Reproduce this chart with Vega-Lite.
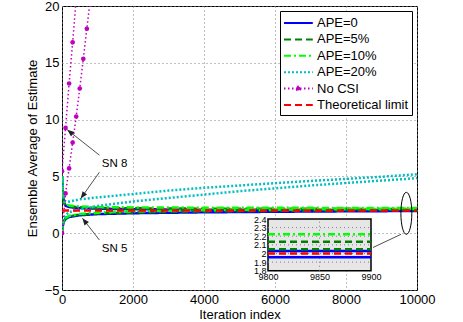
{
  "$schema": "https://vega.github.io/schema/vega-lite/v6.json",
  "width": 355,
  "height": 284,
  "autosize": "none",
  "padding": {"left": 62, "top": 6, "right": 46, "bottom": 32},
  "datasets": {
    "curves": [
      {"s": "APE=0", "n": "8", "x": 0, "y": 5}, {"s": "APE=0", "n": "8", "x": 20, "y": 3.8}, {"s": "APE=0", "n": "8", "x": 50, "y": 2.75}, {"s": "APE=0", "n": "8", "x": 100, "y": 2.42}, {"s": "APE=0", "n": "8", "x": 200, "y": 2.3}, {"s": "APE=0", "n": "8", "x": 500, "y": 2.21}, {"s": "APE=0", "n": "8", "x": 1000, "y": 2.16}, {"s": "APE=0", "n": "8", "x": 2000, "y": 2.11}, {"s": "APE=0", "n": "8", "x": 4000, "y": 2.07}, {"s": "APE=0", "n": "8", "x": 7000, "y": 2.045}, {"s": "APE=0", "n": "8", "x": 10000, "y": 2.03},
      {"s": "APE=0", "n": "5", "x": 0, "y": 0}, {"s": "APE=0", "n": "5", "x": 20, "y": 0.6}, {"s": "APE=0", "n": "5", "x": 50, "y": 1.0}, {"s": "APE=0", "n": "5", "x": 100, "y": 1.25}, {"s": "APE=0", "n": "5", "x": 200, "y": 1.42}, {"s": "APE=0", "n": "5", "x": 500, "y": 1.58}, {"s": "APE=0", "n": "5", "x": 1000, "y": 1.68}, {"s": "APE=0", "n": "5", "x": 2000, "y": 1.76}, {"s": "APE=0", "n": "5", "x": 4000, "y": 1.84}, {"s": "APE=0", "n": "5", "x": 7000, "y": 1.91}, {"s": "APE=0", "n": "5", "x": 10000, "y": 1.956},
      {"s": "APE=5%", "n": "8", "x": 0, "y": 5}, {"s": "APE=5%", "n": "8", "x": 20, "y": 3.85}, {"s": "APE=5%", "n": "8", "x": 50, "y": 2.8}, {"s": "APE=5%", "n": "8", "x": 100, "y": 2.48}, {"s": "APE=5%", "n": "8", "x": 200, "y": 2.37}, {"s": "APE=5%", "n": "8", "x": 500, "y": 2.28}, {"s": "APE=5%", "n": "8", "x": 1000, "y": 2.23}, {"s": "APE=5%", "n": "8", "x": 2000, "y": 2.19}, {"s": "APE=5%", "n": "8", "x": 4000, "y": 2.16}, {"s": "APE=5%", "n": "8", "x": 7000, "y": 2.145}, {"s": "APE=5%", "n": "8", "x": 10000, "y": 2.137},
      {"s": "APE=5%", "n": "5", "x": 0, "y": 0}, {"s": "APE=5%", "n": "5", "x": 20, "y": 0.65}, {"s": "APE=5%", "n": "5", "x": 50, "y": 1.05}, {"s": "APE=5%", "n": "5", "x": 100, "y": 1.3}, {"s": "APE=5%", "n": "5", "x": 200, "y": 1.47}, {"s": "APE=5%", "n": "5", "x": 500, "y": 1.64}, {"s": "APE=5%", "n": "5", "x": 1000, "y": 1.74}, {"s": "APE=5%", "n": "5", "x": 2000, "y": 1.83}, {"s": "APE=5%", "n": "5", "x": 4000, "y": 1.92}, {"s": "APE=5%", "n": "5", "x": 7000, "y": 1.99}, {"s": "APE=5%", "n": "5", "x": 10000, "y": 2.048},
      {"s": "APE=10%", "n": "8", "x": 0, "y": 5}, {"s": "APE=10%", "n": "8", "x": 20, "y": 3.9}, {"s": "APE=10%", "n": "8", "x": 50, "y": 2.85}, {"s": "APE=10%", "n": "8", "x": 100, "y": 2.53}, {"s": "APE=10%", "n": "8", "x": 200, "y": 2.43}, {"s": "APE=10%", "n": "8", "x": 500, "y": 2.35}, {"s": "APE=10%", "n": "8", "x": 1000, "y": 2.3}, {"s": "APE=10%", "n": "8", "x": 2000, "y": 2.27}, {"s": "APE=10%", "n": "8", "x": 4000, "y": 2.245}, {"s": "APE=10%", "n": "8", "x": 7000, "y": 2.23}, {"s": "APE=10%", "n": "8", "x": 10000, "y": 2.222},
      {"s": "APE=10%", "n": "5", "x": 0, "y": 0}, {"s": "APE=10%", "n": "5", "x": 20, "y": 0.7}, {"s": "APE=10%", "n": "5", "x": 50, "y": 1.1}, {"s": "APE=10%", "n": "5", "x": 100, "y": 1.35}, {"s": "APE=10%", "n": "5", "x": 200, "y": 1.52}, {"s": "APE=10%", "n": "5", "x": 500, "y": 1.7}, {"s": "APE=10%", "n": "5", "x": 1000, "y": 1.81}, {"s": "APE=10%", "n": "5", "x": 2000, "y": 1.92}, {"s": "APE=10%", "n": "5", "x": 4000, "y": 2.02}, {"s": "APE=10%", "n": "5", "x": 7000, "y": 2.1}, {"s": "APE=10%", "n": "5", "x": 10000, "y": 2.15},
      {"s": "APE=20%", "n": "8", "x": 0, "y": 5}, {"s": "APE=20%", "n": "8", "x": 30, "y": 3.6}, {"s": "APE=20%", "n": "8", "x": 60, "y": 3.0}, {"s": "APE=20%", "n": "8", "x": 100, "y": 2.8}, {"s": "APE=20%", "n": "8", "x": 200, "y": 2.78}, {"s": "APE=20%", "n": "8", "x": 500, "y": 2.98}, {"s": "APE=20%", "n": "8", "x": 1000, "y": 3.15}, {"s": "APE=20%", "n": "8", "x": 2000, "y": 3.45}, {"s": "APE=20%", "n": "8", "x": 3000, "y": 3.75}, {"s": "APE=20%", "n": "8", "x": 4000, "y": 4.0}, {"s": "APE=20%", "n": "8", "x": 5000, "y": 4.2}, {"s": "APE=20%", "n": "8", "x": 6000, "y": 4.4}, {"s": "APE=20%", "n": "8", "x": 7000, "y": 4.6}, {"s": "APE=20%", "n": "8", "x": 8000, "y": 4.78}, {"s": "APE=20%", "n": "8", "x": 9000, "y": 4.97}, {"s": "APE=20%", "n": "8", "x": 10000, "y": 5.19},
      {"s": "APE=20%", "n": "5", "x": 0, "y": 0}, {"s": "APE=20%", "n": "5", "x": 30, "y": 0.9}, {"s": "APE=20%", "n": "5", "x": 60, "y": 1.35}, {"s": "APE=20%", "n": "5", "x": 100, "y": 1.6}, {"s": "APE=20%", "n": "5", "x": 200, "y": 1.85}, {"s": "APE=20%", "n": "5", "x": 500, "y": 2.1}, {"s": "APE=20%", "n": "5", "x": 1000, "y": 2.4}, {"s": "APE=20%", "n": "5", "x": 2000, "y": 2.8}, {"s": "APE=20%", "n": "5", "x": 3000, "y": 3.1}, {"s": "APE=20%", "n": "5", "x": 4000, "y": 3.4}, {"s": "APE=20%", "n": "5", "x": 5000, "y": 3.7}, {"s": "APE=20%", "n": "5", "x": 6000, "y": 3.95}, {"s": "APE=20%", "n": "5", "x": 7000, "y": 4.2}, {"s": "APE=20%", "n": "5", "x": 8000, "y": 4.42}, {"s": "APE=20%", "n": "5", "x": 9000, "y": 4.63}, {"s": "APE=20%", "n": "5", "x": 10000, "y": 4.85},
      {"s": "No CSI", "n": "8", "x": 0, "y": 5.46}, {"s": "No CSI", "n": "8", "x": 100, "y": 9.27}, {"s": "No CSI", "n": "8", "x": 200, "y": 13.18}, {"s": "No CSI", "n": "8", "x": 300, "y": 16.8}, {"s": "No CSI", "n": "8", "x": 400, "y": 20.6},
      {"s": "No CSI", "n": "5", "x": 0, "y": 0}, {"s": "No CSI", "n": "5", "x": 100, "y": 3.5}, {"s": "No CSI", "n": "5", "x": 200, "y": 5.7}, {"s": "No CSI", "n": "5", "x": 300, "y": 7.98}, {"s": "No CSI", "n": "5", "x": 400, "y": 10.27}, {"s": "No CSI", "n": "5", "x": 500, "y": 12.74}, {"s": "No CSI", "n": "5", "x": 600, "y": 15.35}, {"s": "No CSI", "n": "5", "x": 700, "y": 18.0}, {"s": "No CSI", "n": "5", "x": 800, "y": 20.7},
      {"s": "Theoretical limit", "n": "0", "x": 0, "y": 2}, {"s": "Theoretical limit", "n": "0", "x": 10000, "y": 2}
    ],
    "arrows": [
      {"id": "a1", "x": 150, "y": 9.1, "x2": 1054, "y2": 6.87},
      {"id": "a2", "x": 527, "y": 3.05, "x2": 1054, "y2": 5.37},
      {"id": "a3", "x": 575, "y": 1.32, "x2": 1054, "y2": -0.6},
      {"id": "link", "x": 9549, "y": -0.1, "x2": 8761, "y2": -1.26}
    ],
    "labels": [
      {"label": "SN 8", "x": 1480, "y": 6.05},
      {"label": "SN 5", "x": 1480, "y": -1.4}
    ],
    "ellipse": [{"x": 9700, "y": 1.75}],
    "insetBox": [{"x": 9800, "x2": 9900, "y": 1.8, "y2": 2.4}],
    "insetVGrid": [{"x": 9850, "y": 1.8, "y2": 2.4}],
    "insetHGrid": [{"y": 1.9, "x": 9800, "x2": 9900}, {"y": 2.0, "x": 9800, "x2": 9900}, {"y": 2.1, "x": 9800, "x2": 9900}, {"y": 2.2, "x": 9800, "x2": 9900}, {"y": 2.3, "x": 9800, "x2": 9900}],
    "inset": [
      {"s": "APE=0", "n": "5", "x": 9800, "y": 1.956}, {"s": "APE=0", "n": "5", "x": 9900, "y": 1.956},
      {"s": "APE=0", "n": "8", "x": 9800, "y": 2.029}, {"s": "APE=0", "n": "8", "x": 9900, "y": 2.029},
      {"s": "APE=5%", "n": "5", "x": 9800, "y": 2.048}, {"s": "APE=5%", "n": "5", "x": 9900, "y": 2.048},
      {"s": "APE=5%", "n": "8", "x": 9800, "y": 2.137}, {"s": "APE=5%", "n": "8", "x": 9900, "y": 2.137},
      {"s": "APE=10%", "n": "8", "x": 9800, "y": 2.222}, {"s": "APE=10%", "n": "8", "x": 9900, "y": 2.222},
      {"s": "Theoretical limit", "n": "0", "x": 9800, "y": 2.0}, {"s": "Theoretical limit", "n": "0", "x": 9900, "y": 2.0}
    ]
  },
  "layer": [
    {
      "layer": [
        {
          "data": {"name": "curves"},
          "transform": [{"filter": "datum.s == 'APE=0' || datum.s == 'APE=5%' || datum.s == 'APE=10%'"}],
          "mark": {"type": "line", "strokeWidth": 2.5, "clip": true},
          "encoding": {
            "x": {"field": "x", "type": "quantitative", "title": "Iteration index", "scale": {"domain": [0, 10000], "nice": false},
                  "axis": {"values": [0, 2000, 4000, 6000, 8000, 10000], "format": "d", "labelPadding": 3, "titlePadding": 2, "grid": true}},
            "y": {"field": "y", "type": "quantitative", "title": "Ensemble Average of Estimate", "scale": {"domain": [-5, 20], "nice": false, "zero": false},
                  "axis": {"values": [-5, 0, 5, 10, 15, 20], "labelPadding": 3, "titlePadding": 5, "grid": true}},
            "color": {"field": "s", "type": "nominal", "scale": {"domain": ["APE=0", "APE=5%", "APE=10%", "APE=20%", "No CSI", "Theoretical limit"], "range": ["#0000FF", "#008000", "#00FF00", "#00BFBF", "#BF00BF", "#FF0000"]}, "title": null,
                      "legend": {"encode": {"symbols": {"update": {
                        "shape": {"signal": "datum.value === 'No CSI' ? 'M-1,0L2.6,0M1.05,0C1.05,0.138,0.938,0.25,0.8,0.25C0.662,0.25,0.55,0.138,0.55,0C0.55,-0.138,0.662,-0.25,0.8,-0.25C0.938,-0.25,1.05,-0.138,1.05,0Z' : 'M-1,0L2.6,0'"},
                        "fill": {"signal": "datum.value === 'No CSI' ? '#BF00BF' : 'transparent'"}
                      }}}}},
            "strokeDash": {"field": "s", "type": "nominal", "scale": {"domain": ["APE=0", "APE=5%", "APE=10%", "APE=20%", "No CSI", "Theoretical limit"], "range": [[1, 0], [7, 4], [7, 3, 2, 3], [2, 2], [1.5, 2.5], [7, 4]]}, "title": null},
            "detail": {"field": "n"}
          }
        },
        {
          "data": {"name": "curves"},
          "transform": [{"filter": "datum.s == 'APE=20%'"}],
          "mark": {"type": "line", "strokeWidth": 2.5, "clip": true},
          "encoding": {
            "x": {"field": "x", "type": "quantitative", "title": "Iteration index"},
            "y": {"field": "y", "type": "quantitative", "title": "Ensemble Average of Estimate"},
            "color": {"field": "s", "type": "nominal", "title": null},
            "strokeDash": {"field": "s", "type": "nominal", "title": null},
            "detail": {"field": "n"}
          }
        },
        {
          "data": {"name": "curves"},
          "transform": [{"filter": "datum.s == 'No CSI'"}],
          "mark": {"type": "line", "strokeWidth": 1.5, "clip": true},
          "encoding": {
            "x": {"field": "x", "type": "quantitative", "title": "Iteration index"},
            "y": {"field": "y", "type": "quantitative", "title": "Ensemble Average of Estimate"},
            "color": {"field": "s", "type": "nominal", "title": null},
            "strokeDash": {"field": "s", "type": "nominal", "title": null},
            "detail": {"field": "n"}
          }
        },
        {
          "data": {"name": "curves"},
          "transform": [{"filter": "datum.s == 'No CSI'"}],
          "mark": {"type": "point", "filled": true, "size": 22, "opacity": 1, "clip": true, "color": "#BF00BF"},
          "encoding": {
            "x": {"field": "x", "type": "quantitative", "title": "Iteration index"},
            "y": {"field": "y", "type": "quantitative", "title": "Ensemble Average of Estimate"}
          }
        },
        {
          "data": {"name": "curves"},
          "transform": [{"filter": "datum.s == 'Theoretical limit'"}],
          "mark": {"type": "line", "strokeWidth": 2.5, "clip": true},
          "encoding": {
            "x": {"field": "x", "type": "quantitative", "title": "Iteration index"},
            "y": {"field": "y", "type": "quantitative", "title": "Ensemble Average of Estimate"},
            "color": {"field": "s", "type": "nominal", "title": null},
            "strokeDash": {"field": "s", "type": "nominal", "title": null},
            "detail": {"field": "n"}
          }
        },
        {
          "data": {"name": "arrows"},
          "mark": {"type": "rule", "color": "#222222", "strokeWidth": 0.8},
          "encoding": {
            "x": {"field": "x", "type": "quantitative", "title": "Iteration index"},
            "y": {"field": "y", "type": "quantitative", "title": "Ensemble Average of Estimate"},
            "x2": {"field": "x2"},
            "y2": {"field": "y2"}
          }
        },
        {
          "data": {"name": "arrows"},
          "transform": [{"filter": "datum.id == 'a1'"}],
          "mark": {"type": "point", "shape": "M-0.4,1L0,0L0.4,1Z", "size": 196, "filled": true, "color": "#222222", "opacity": 1, "angle": 309},
          "encoding": {
            "x": {"field": "x", "type": "quantitative", "title": "Iteration index"},
            "y": {"field": "y", "type": "quantitative", "title": "Ensemble Average of Estimate"}
          }
        },
        {
          "data": {"name": "arrows"},
          "transform": [{"filter": "datum.id == 'a2'"}],
          "mark": {"type": "point", "shape": "M-0.4,1L0,0L0.4,1Z", "size": 196, "filled": true, "color": "#222222", "opacity": 1, "angle": 216},
          "encoding": {
            "x": {"field": "x", "type": "quantitative", "title": "Iteration index"},
            "y": {"field": "y", "type": "quantitative", "title": "Ensemble Average of Estimate"}
          }
        },
        {
          "data": {"name": "arrows"},
          "transform": [{"filter": "datum.id == 'a3'"}],
          "mark": {"type": "point", "shape": "M-0.4,1L0,0L0.4,1Z", "size": 196, "filled": true, "color": "#222222", "opacity": 1, "angle": 322},
          "encoding": {
            "x": {"field": "x", "type": "quantitative", "title": "Iteration index"},
            "y": {"field": "y", "type": "quantitative", "title": "Ensemble Average of Estimate"}
          }
        },
        {
          "data": {"name": "labels"},
          "mark": {"type": "text", "font": "Liberation Sans", "fontSize": 11.5, "color": "black", "align": "center", "baseline": "middle"},
          "encoding": {
            "x": {"field": "x", "type": "quantitative", "title": "Iteration index"},
            "y": {"field": "y", "type": "quantitative", "title": "Ensemble Average of Estimate"},
            "text": {"field": "label"}
          }
        },
        {
          "data": {"name": "ellipse"},
          "mark": {"type": "point", "shape": "M0,-1C0.1436,-1,0.26,-0.5523,0.26,0C0.26,0.5523,0.1436,1,0,1C-0.1436,1,-0.26,0.5523,-0.26,0C-0.26,-0.5523,-0.1436,-1,0,-1Z", "size": 1764, "filled": false, "stroke": "black", "strokeWidth": 1, "opacity": 1},
          "encoding": {
            "x": {"field": "x", "type": "quantitative", "title": "Iteration index"},
            "y": {"field": "y", "type": "quantitative", "title": "Ensemble Average of Estimate"}
          }
        }
      ]
    },
    {
      "layer": [
        {
          "data": {"name": "insetBox"},
          "mark": {"type": "rect", "fill": "#E6E6E6", "stroke": "black", "strokeWidth": 1.5},
          "encoding": {
            "x": {"field": "x", "type": "quantitative", "title": null, "scale": {"domain": [9800, 9900], "range": [206, 309], "nice": false, "zero": false},
                  "axis": {"orient": "bottom", "offset": -19.5, "values": [9800, 9850, 9900], "format": "d", "labelFontSize": 9, "labelPadding": 2, "grid": false, "domain": false, "ticks": false, "labelOverlap": false}},
            "y": {"field": "y", "type": "quantitative", "title": null, "scale": {"domain": [1.8, 2.4], "range": [264.7, 213], "nice": false, "zero": false},
                  "axis": {"orient": "left", "offset": -206, "values": [1.8, 1.9, 2.0, 2.1, 2.2, 2.3, 2.4], "format": "~g", "labelFontSize": 9, "labelPadding": 2, "grid": false, "domain": false, "ticks": false, "labelOverlap": false}},
            "x2": {"field": "x2"},
            "y2": {"field": "y2"}
          }
        },
        {
          "data": {"name": "insetVGrid"},
          "mark": {"type": "rule", "color": "#808080", "strokeDash": [1, 3], "strokeWidth": 1},
          "encoding": {
            "x": {"field": "x", "type": "quantitative", "title": null},
            "y": {"field": "y", "type": "quantitative", "title": null},
            "y2": {"field": "y2"}
          }
        },
        {
          "data": {"name": "insetHGrid"},
          "mark": {"type": "rule", "color": "#808080", "strokeDash": [1, 3], "strokeWidth": 1},
          "encoding": {
            "x": {"field": "x", "type": "quantitative", "title": null},
            "y": {"field": "y", "type": "quantitative", "title": null},
            "x2": {"field": "x2"}
          }
        },
        {
          "data": {"name": "inset"},
          "mark": {"type": "line", "strokeWidth": 2.5},
          "encoding": {
            "x": {"field": "x", "type": "quantitative", "title": null},
            "y": {"field": "y", "type": "quantitative", "title": null},
            "color": {"field": "s", "type": "nominal", "title": null},
            "strokeDash": {"field": "s", "type": "nominal", "title": null},
            "detail": {"field": "n"}
          }
        }
      ]
    }
  ],
  "resolve": {"scale": {"x": "independent", "y": "independent"}},
  "config": {
    "view": {"stroke": "black", "strokeWidth": 1},
    "font": "Liberation Sans",
    "axis": {"labelFont": "Liberation Sans", "labelFontSize": 13, "labelColor": "black", "titleFont": "Liberation Sans", "titleFontSize": 13, "titleFontWeight": "normal", "titleColor": "black", "domain": false, "ticks": false, "gridColor": "#808080", "gridDash": [1, 3], "gridOpacity": 1, "labelFlush": false, "labelBound": false},
    "legend": {"orient": "top-right", "offset": 5, "fillColor": "white", "strokeColor": "black", "padding": 3, "labelFont": "Liberation Sans", "labelFontSize": 13, "labelColor": "black", "symbolType": "M-1,0L2.6,0", "symbolSize": 256, "symbolStrokeWidth": 2, "rowPadding": 0.4, "labelOffset": 16}
  }
}
